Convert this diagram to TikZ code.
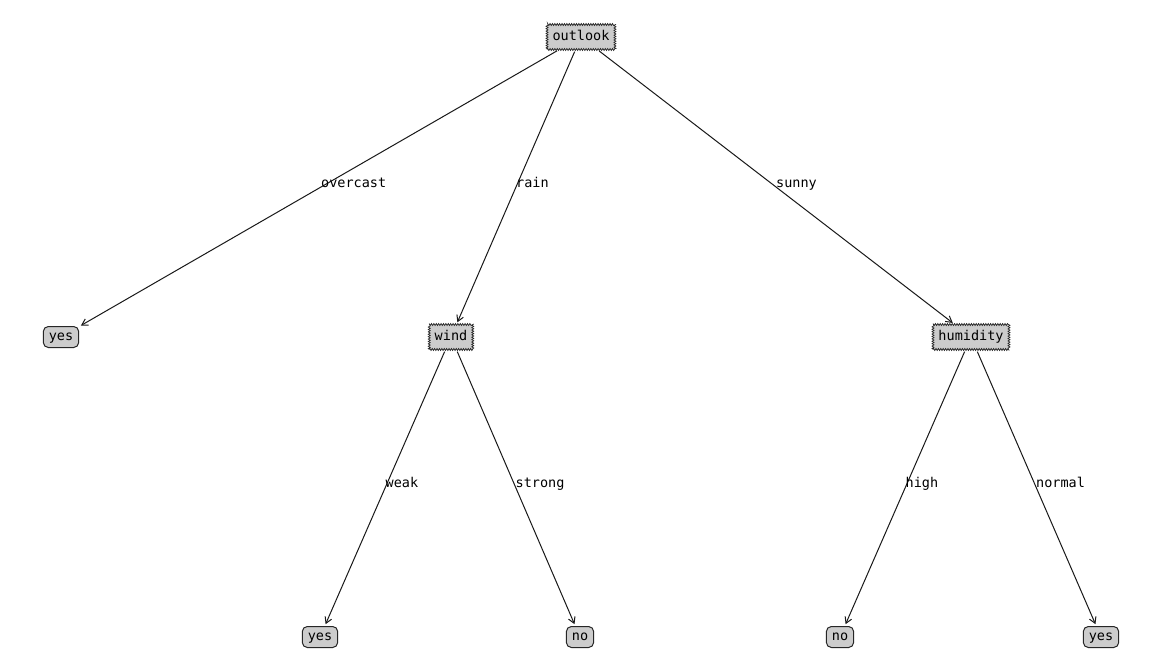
\documentclass[tikz,border=0pt]{standalone}
\usepackage{fontspec}
\setmonofont{DejaVu Sans Mono}
\usetikzlibrary{arrows.meta,decorations.pathmorphing,calc}
\begin{document}
\begin{tikzpicture}[x=1pt,y=-1pt,
  txt/.style={font=\ttfamily\fontsize{13.5}{14}\selectfont},
  decision/.style={txt, fill=black!20, draw=black!85, line width=0.7pt,
    inner xsep=5.5pt, inner ysep=0pt, minimum height=25pt, text height=9.5pt, text depth=2.5pt,
    decorate, decoration={zigzag, segment length=2.4pt, amplitude=1pt}},
  leaf/.style={txt, fill=black!20, draw=black!85, line width=1pt, rounded corners=5pt,
    inner xsep=5.5pt, inner ysep=0pt, minimum height=21pt, text height=9.5pt, text depth=2.5pt},
  edge/.style={draw=black!90, line width=1pt, -{Straight Barb[length=6pt,width=7pt]},
    shorten <=2pt, shorten >=2pt},
  lab/.style={txt, anchor=base west, inner sep=0pt}]
\useasboundingbox[fill=white] (0,0) rectangle (1149,669);
\node[decision] (outlook) at (581,37) {outlook};
\node[leaf] (yes1) at (61,337) {yes};
\node[decision] (wind) at (451,337) {wind};
\node[decision] (humidity) at (971,337) {humidity};
\node[leaf] (yes2) at (320,637) {yes};
\node[leaf] (no1) at (580,637) {no};
\node[leaf] (no2) at (840,637) {no};
\node[leaf] (yes3) at (1101,637) {yes};
\draw[edge] (outlook) -- (yes1);
\draw[edge] (outlook) -- (wind);
\draw[edge] (outlook) -- (humidity);
\draw[edge] (wind) -- (yes2);
\draw[edge] (wind) -- (no1);
\draw[edge] (humidity) -- (no2);
\draw[edge] (humidity) -- (yes3);
\node[lab] (l1) at ($(outlook.center)!0.5!(yes1.center)$) {overcast};
\node[lab] (l2) at ($(outlook.center)!0.5!(wind.center)$) {rain};
\node[lab] (l3) at ($(outlook.center)!0.5!(humidity.center)$) {sunny};
\node[lab] (l4) at ($(wind.center)!0.5!(yes2.center)$) {weak};
\node[lab] (l5) at ($(wind.center)!0.5!(no1.center)$) {strong};
\node[lab] (l6) at ($(humidity.center)!0.5!(no2.center)$) {high};
\node[lab] (l7) at ($(humidity.center)!0.5!(yes3.center)$) {normal};
\end{tikzpicture}
\end{document}
